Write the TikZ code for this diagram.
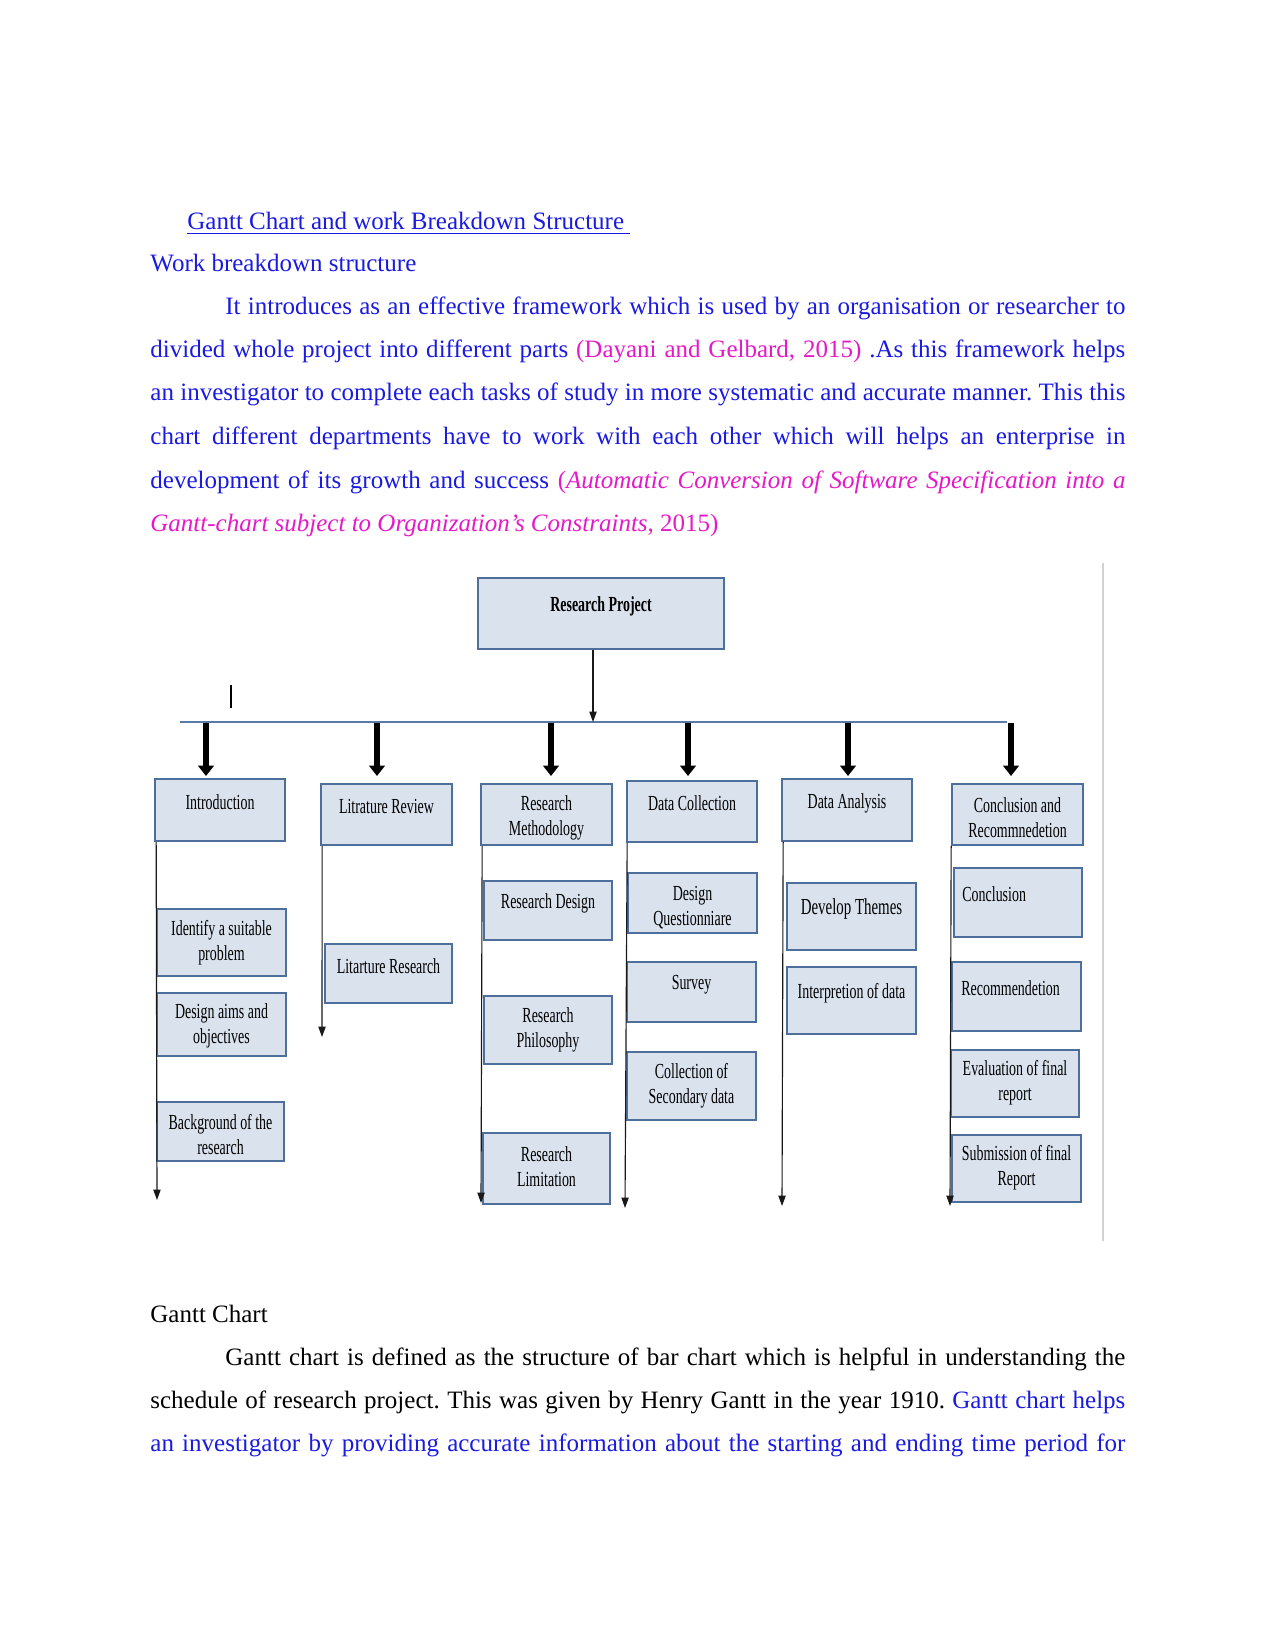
\documentclass[tikz,border=0pt]{standalone}
\usepackage{fontspec}
\setmainfont{Liberation Serif}
\newfontfamily\dfont[FakeStretch=0.65]{Liberation Serif}
\usetikzlibrary{arrows.meta,fit}
\definecolor{tblue}{HTML}{1A1AE0}
\definecolor{tmag}{HTML}{E619C8}
\definecolor{boxfill}{HTML}{DAE2EE}
\definecolor{boxline}{HTML}{4E6E9C}
\definecolor{barline}{HTML}{5A7AA6}
\newcommand\wbox[5]{\node[box, fit={(#2,#3) (#4,#5)}] (#1) {};}
\frenchspacing
\begin{document}
\begin{tikzpicture}[x=0.48pt,y=-0.48pt,
  box/.style={draw=boxline, fill=boxfill, line width=0.8pt, inner sep=0pt},
  dtxt/.style={font=\dfont\fontsize{10.3}{12}\selectfont, align=center, inner sep=0pt},
  ptxt/.style={font=\fontsize{12}{14}\selectfont\frenchspacing, anchor=base west, inner sep=0pt},
  bigarrow/.style={line width=2.8pt, -{Triangle[width=7.5pt,length=5pt]}},
  colarrow/.style={line width=0.55pt, draw=black!90, -{Triangle[width=3.5pt,length=5pt]}},
]
\useasboundingbox (0,0) rectangle (1275,1650);
\fill[white] (0,0) rectangle (1275,1650);

% ---------- text above ----------
\node[ptxt, text=tblue] (title) at (187,230) {\underline{Gantt Chart and work Breakdown Structure\ }};
\node[ptxt, text=tblue] (wbs) at (150,272) {Work breakdown structure};
\node[ptxt, text=tblue] (p1) at (225,315) {\hbox to 432pt{It introduces as an effective framework which is used by an organisation or researcher to}};
\node[ptxt, text=tblue] (p2) at (150,358) {\hbox to 468pt{divided whole project into different parts \textcolor{tmag}{(Dayani and Gelbard, 2015)} .As this framework helps}};
\node[ptxt, text=tblue] (p3) at (150,401) {\hbox to 468pt{an investigator to complete each tasks of study in more systematic and accurate manner. This this}};
\node[ptxt, text=tblue] (p4) at (150,444) {\hbox to 468pt{chart different departments have to work with each other which will helps an enterprise in}};
\node[ptxt, text=tblue] (p5) at (150,488) {\hbox to 468pt{development of its growth and success \textcolor{tmag}{(\textit{Automatic Conversion of Software Specification into a}}}};
\node[ptxt, text=tmag] (p6) at (150,531) {\textit{Gantt-chart subject to Organization's Constraints}, 2015)};

% ---------- diagram ----------
\draw[gray!35, line width=1pt] (1103,563) -- (1103,1241);

\wbox{rp}{478}{578}{724}{649}
\node[dtxt, font=\dfont\bfseries\fontsize{10.3}{12}\selectfont] (rp-t) at (601,606) {Research Project};

\coordinate (barL) at (180,722);
\coordinate (barR) at (1007,722);
\coordinate (barJ) at (593,722);
\draw[barline, line width=0.7pt] (barL) -- (barR);
\draw[colarrow] (rp.south -| barJ) -- (barJ);
\draw[line width=0.6pt] (231,685) -- (231,708);

\foreach \i/\xx in {1/206,2/377,3/551,4/688,5/848,6/1011}{
  \coordinate (b\i) at (\xx,723);
  \draw[bigarrow] (b\i) -- ++(0,53);
}

% top-level boxes
\wbox{intro}{155}{779}{285}{841}
\node[dtxt] (intro-t) at (220,802) {Introduction};
\wbox{litrev}{321}{784}{452}{845}
\node[dtxt] (litrev-t) at (386.5,806) {Litrature Review};
\wbox{resmeth}{481}{784}{612}{845}
\node[dtxt] (resmeth-t) at (546.5,817.5) {Research\\Methodology};
\wbox{datacol}{627}{781}{757}{842}
\node[dtxt] (datacol-t) at (692,803) {Data Collection};
\wbox{dataan}{782}{779}{912}{841}
\node[dtxt] (dataan-t) at (847,803) {Data Analysis};
\wbox{concrec}{952}{784}{1083}{845}
\node[dtxt] (concrec-t) at (1017.5,817.5) {Conclusion and\\Recommnedetion};

% sub boxes
\wbox{ident}{157}{909}{286}{976}
\node[dtxt] (ident-t) at (221.5,943) {Identify a suitable\\problem};
\wbox{aims}{157}{993}{286}{1056}
\node[dtxt] (aims-t) at (221.5,1026) {Design aims and\\objectives};
\wbox{backg}{157}{1102}{284}{1161}
\node[dtxt] (backg-t) at (220.5,1135) {Background of the\\research};

\wbox{litres}{325}{944}{452}{1003}
\node[dtxt] (litres-t) at (388.5,966) {Litarture Research};

\wbox{rdesign}{484}{881}{612}{940}
\node[dtxt] (rdesign-t) at (548,903) {Research Design};
\wbox{rphil}{484}{996}{612}{1064}
\node[dtxt] (rphil-t) at (548,1029.5) {Research\\Philosophy};
\wbox{rlimit}{483}{1133}{610}{1204}
\node[dtxt] (rlimit-t) at (546.5,1166.5) {Research\\Limitation};

\wbox{quest}{628}{873}{757}{933}
\node[dtxt] (quest-t) at (692.5,907.5) {Design\\Questionniare};
\wbox{survey}{627}{962}{756}{1022}
\node[dtxt] (survey-t) at (691.5,985) {Survey};
\wbox{second}{627}{1052}{756}{1120}
\node[dtxt] (second-t) at (691.5,1085.5) {Collection of\\Secondary data};

\wbox{themes}{787}{883}{916}{950}
\node[dtxt, font=\dfont\fontsize{11}{12}\selectfont] (themes-t) at (851.5,909) {Develop Themes};
\wbox{interp}{787}{967}{916}{1034}
\node[dtxt] (interp-t) at (851.5,993) {Interpretion of data};

\wbox{concl}{954}{868}{1082}{937}
\node[dtxt, anchor=west] (concl-t) at (962,894) {Conclusion};
\wbox{recom}{952}{962}{1081}{1031}
\node[dtxt, anchor=west] (recom-t) at (961,988) {Recommendetion};
\wbox{evalr}{951}{1050}{1079}{1117}
\node[dtxt] (evalr-t) at (1015,1083) {Evaluation of final\\report};
\wbox{submit}{952}{1135}{1081}{1202}
\node[dtxt] (submit-t) at (1016.5,1168) {Submission of final\\Report};

% column lines
\coordinate (c1e) at (157,1200);
\coordinate (c2e) at (322,1037);
\coordinate (c3e) at (481,1203);
\coordinate (c4e) at (625,1208);
\coordinate (c5e) at (782,1206);
\coordinate (c6e) at (950,1206);
\draw[colarrow] (intro.south west) ++(2,0) -- (c1e);
\draw[colarrow] (litrev.south west) ++(2,0) -- (c2e);
\draw[colarrow] (resmeth.south west) ++(2,0) -- (c3e);
\draw[colarrow] (datacol.south west) ++(1,0) -- (c4e);
\draw[colarrow] (dataan.south west) ++(2,0) -- (c5e);
\draw[colarrow] (concrec.south west) ++(0,0) -- (c6e);

% ---------- text below ----------
\node[ptxt] (gc) at (150,1322) {Gantt Chart};
\node[ptxt] (g1) at (225,1365) {\hbox to 432pt{Gantt chart is defined as the structure of bar chart which is helpful in understanding the}};
\node[ptxt] (g2) at (150,1408) {\hbox to 468pt{schedule of research project. This was given by Henry Gantt in the year 1910. \textcolor{tblue}{Gantt chart helps}}};
\node[ptxt, text=tblue] (g3) at (150,1451) {\hbox to 468pt{an investigator by providing accurate information about the starting and ending time period for}};
\end{tikzpicture}
\end{document}
